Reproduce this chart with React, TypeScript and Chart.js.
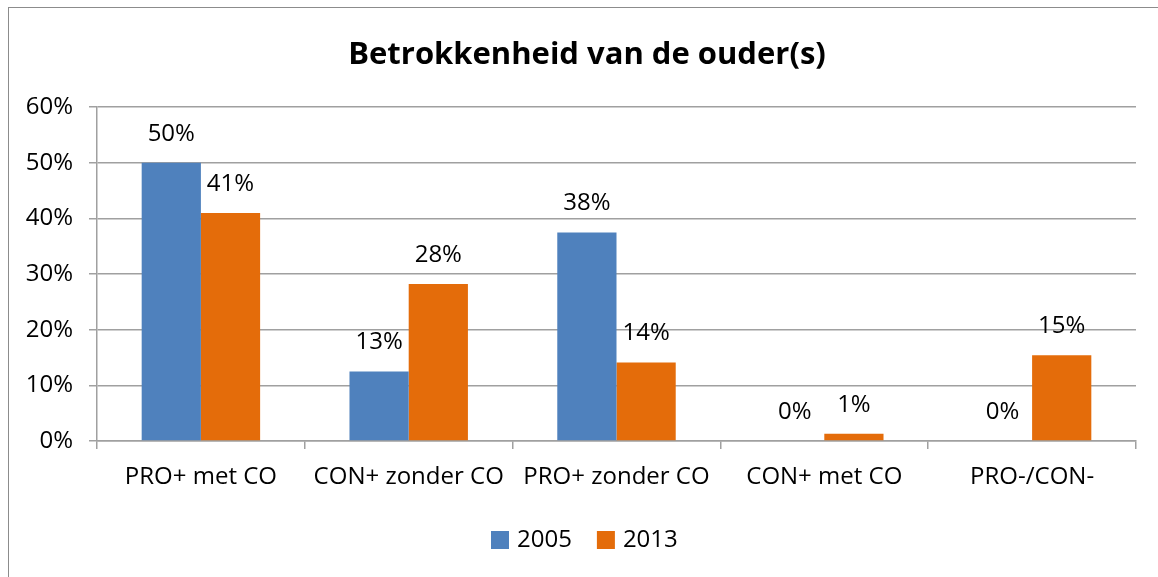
import React, { useEffect, useRef } from "react";
import { Chart, registerables } from "chart.js";

Chart.register(...registerables);

const categories = ["PRO+ met CO", "CON+ zonder CO", "PRO+ zonder CO", "CON+ met CO", "PRO-/CON-"];
const series2005 = [50, 12.5, 37.5, 0, 0];
const series2013 = [41, 28.2, 14.1, 1.3, 15.4];
const yTicks = [0, 10, 20, 30, 40, 50, 60];
const titleText = "Betrokkenheid van de ouder(s)";

const FONT = "'Open Sans', sans-serif";
const FS = 24;

const labelPlugin = {
  id: "barLabels",
  afterDatasetsDraw(chart: any) {
    const ctx = chart.ctx;
    ctx.save();
    ctx.font = `${FS}px ${FONT}`;
    ctx.fillStyle = "#000";
    ctx.textAlign = "center";
    ctx.textBaseline = "middle";
    chart.data.datasets.forEach((ds: any, i: number) => {
      const meta = chart.getDatasetMeta(i);
      meta.data.forEach((bar: any, j: number) => {
        const v = ds.data[j];
        ctx.fillText(Math.round(v) + "%", bar.x, bar.y - 29);
      });
    });
    // legend, centred on the (wider) chart frame
    let x = 491;
    const cy = 540;
    ctx.textAlign = "left";
    chart.data.datasets.forEach((ds: any) => {
      ctx.fillStyle = ds.backgroundColor;
      ctx.fillRect(x, cy - 9, 18, 18);
      ctx.fillStyle = "#000";
      ctx.fillText(ds.label, x + 26, cy);
      x += 26 + ctx.measureText(ds.label).width + 25;
    });
    // title, centred on the (wider) chart frame
    ctx.textAlign = "center";
    ctx.font = `bold 31px ${FONT}`;
    ctx.fillText(titleText, 587, 55);
    ctx.restore();
  },
};

const borderPlugin = {
  id: "outerBorder",
  beforeDraw(chart: any) {
    const ctx = chart.ctx;
    ctx.save();
    ctx.fillStyle = "#fff";
    ctx.fillRect(0, 0, chart.width, chart.height);
    ctx.strokeStyle = "#8c8c8c";
    ctx.lineWidth = 1;
    ctx.strokeRect(8.5, 7.5, chart.width + 20, chart.height + 20);
    ctx.restore();
  },
};

export default function App() {
  const ref = useRef<HTMLCanvasElement>(null);
  useEffect(() => {
    document.body.style.margin = "0";
    const chart = new Chart(ref.current!, {
      type: "bar",
      data: {
        labels: categories,
        datasets: [
          { label: "2005", data: series2005, backgroundColor: "#4F81BD", categoryPercentage: 0.57, barPercentage: 1.0 },
          { label: "2013", data: series2013, backgroundColor: "#E46C0A", categoryPercentage: 0.57, barPercentage: 1.0 },
        ],
      },
      options: {
        responsive: false,
        animation: false,
        layout: { padding: { left: 0, right: 22, top: 0, bottom: 66 } },
        plugins: {
          title: {
            display: true,
            text: titleText,
            font: { family: FONT, size: 31, weight: "bold" },
            color: "rgba(0,0,0,0)",
            padding: { top: 36, bottom: 34 },
          },
          legend: { display: false },
          tooltip: { enabled: false },
        },
        scales: {
          x: {
            grid: { drawOnChartArea: false, offset: true, tickLength: 8, color: "#a0a0a0", lineWidth: 1.5 },
            border: { color: "#a0a0a0", width: 1.5 },
            ticks: { font: { family: FONT, size: FS }, color: "#000", padding: 14, maxRotation: 0 },
            afterFit(scale: any) { scale.height = 70; },
          },
          y: {
            min: 0,
            max: 60,
            afterBuildTicks(scale: any) { scale.ticks = yTicks.map((v) => ({ value: v })); },
            grid: { tickLength: 8, color: "#a0a0a0", lineWidth: 1.5 },
            border: { color: "#a0a0a0", width: 1.5 },
            ticks: { font: { family: FONT, size: FS }, color: "#000", padding: 16, callback: (v: any) => v + "%" },
            afterFit(scale: any) { scale.width = 97; },
          },
        },
      },
      plugins: [borderPlugin, labelPlugin],
    });
    return () => chart.destroy();
  }, []);
  return <canvas ref={ref} width={1158} height={577} style={{ display: "block" }} />;
}
